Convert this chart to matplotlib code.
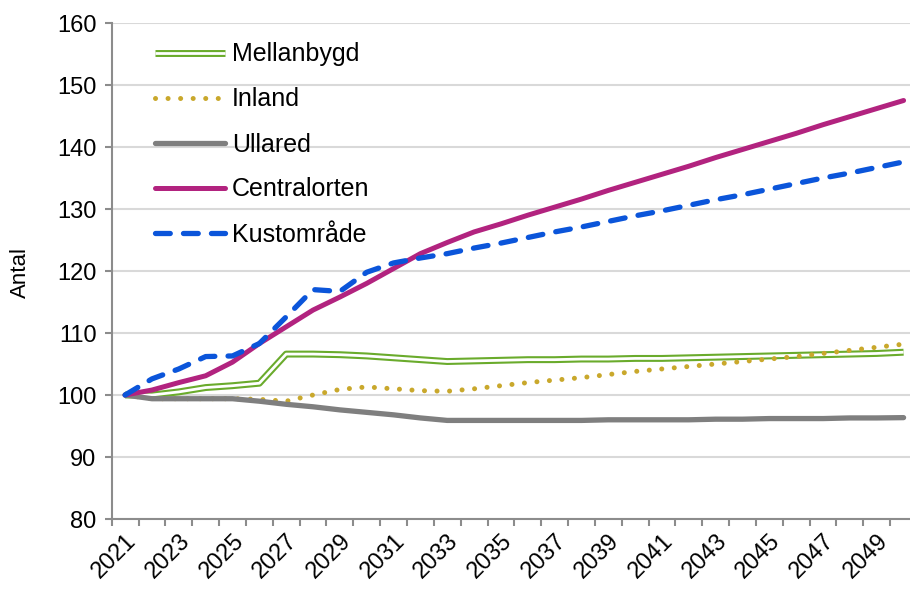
import matplotlib
matplotlib.use("Agg")
import matplotlib.pyplot as plt
import matplotlib.patheffects as pe
import numpy as np

years = list(range(2021, 2051))

mellanbygd = [100.0, 100.0, 100.5, 101.2, 101.5, 101.9, 106.6, 106.6, 106.5, 106.3,
              106.0, 105.7, 105.4, 105.5, 105.6, 105.7, 105.7, 105.8, 105.8, 105.9,
              105.9, 106.0, 106.1, 106.2, 106.3, 106.4, 106.5, 106.6, 106.7, 106.9]
inland = [100.0, 99.4, 99.4, 99.4, 99.4, 99.3, 99.0, 100.0, 100.9, 101.3,
          101.0, 100.7, 100.6, 101.0, 101.5, 102.0, 102.4, 102.8, 103.3, 103.8,
          104.2, 104.6, 105.0, 105.4, 105.8, 106.2, 106.7, 107.2, 107.7, 108.2]
ullared = [100.0, 99.4, 99.4, 99.4, 99.4, 99.0, 98.5, 98.1, 97.6, 97.2,
           96.8, 96.3, 95.9, 95.9, 95.9, 95.9, 95.9, 95.9, 96.0, 96.0,
           96.0, 96.0, 96.1, 96.1, 96.2, 96.2, 96.2, 96.3, 96.3, 96.35]
centralorten = [100.0, 100.8, 102.0, 103.1, 105.3, 108.3, 111.0, 113.7, 115.8, 118.0,
                120.4, 122.8, 124.6, 126.3, 127.6, 129.0, 130.3, 131.6, 133.0, 134.3,
                135.6, 136.9, 138.3, 139.6, 140.9, 142.2, 143.6, 144.9, 146.2, 147.5]
kustomrade = [100.0, 102.6, 104.2, 106.2, 106.3, 108.3, 112.6, 117.0, 116.7, 119.8,
              121.3, 122.1, 122.8, 123.7, 124.5, 125.4, 126.3, 127.1, 128.0, 128.9,
              129.7, 130.6, 131.5, 132.3, 133.2, 134.1, 135.0, 135.8, 136.7, 137.6]

tick_labels = [str(y) for y in years[::2]]

plt.rcParams["font.family"] = ["Liberation Sans", "DejaVu Sans"]

fig = plt.figure(figsize=(9.1, 5.94), dpi=100)
ax = fig.add_axes([111.7 / 910, 75 / 594, (917 - 111.7) / 910, 496 / 594])

x = np.arange(len(years))

ax.plot(x, mellanbygd, color="white", lw=2.0, label="Mellanbygd",
        solid_capstyle="butt",
        path_effects=[pe.Stroke(linewidth=5.0, foreground="#6aab2c"), pe.Normal()])
ax.plot(x, inland, color="#c9a82c", lw=3.6, dashes=(0.01, 2.5),
        dash_capstyle="round", label="Inland")
ax.plot(x, ullared, color="#7f7f7f", lw=3.8, solid_capstyle="round", label="Ullared")
ax.plot(x, centralorten, color="#b2237f", lw=3.6, solid_capstyle="round", label="Centralorten")
ax.plot(x, kustomrade, color="#0b55da", lw=3.8, dashes=(2.8, 2.5),
        dash_capstyle="round", label="Kustområde")

ax.set_xlim(-0.5, len(years) - 0.5)
ax.set_ylim(80, 160)
ax.set_yticks(range(80, 161, 10))
ax.grid(axis="y", color="#d9d9d9", lw=1.5)
ax.set_axisbelow(True)

# tick marks between categories, labels on every second year
ax.set_xticks(np.arange(-0.5, len(years), 1.0))
ax.set_xticklabels([])
ax.set_xticks(x[::2], minor=True)
ax.set_xticklabels(tick_labels, minor=True, rotation=45, ha="right", va="top",
                   rotation_mode="anchor", fontsize=17)
ax.tick_params(axis="x", which="major", length=5, width=1.5, color="#8c8c8c", direction="out")
ax.tick_params(axis="x", which="minor", length=0, pad=8)
ax.tick_params(axis="y", length=5, width=1.5, color="#8c8c8c", labelsize=17, pad=6)

for side in ["top", "right"]:
    ax.spines[side].set_visible(False)
for side in ["left", "bottom"]:
    ax.spines[side].set_color("#8c8c8c")
    ax.spines[side].set_linewidth(1.5)

fig.text(20 / 910, 1 - 272 / 594, "Antal", rotation=90, ha="center", va="center", fontsize=16)

ax.legend(loc="upper left", bbox_to_anchor=(142 / 910, 1 - 30 / 594),
          bbox_transform=fig.transFigure, frameon=False, fontsize=18,
          handlelength=2.8, handletextpad=0.3, labelspacing=0.84, borderpad=0)

fig.savefig("out.png", dpi=100)
